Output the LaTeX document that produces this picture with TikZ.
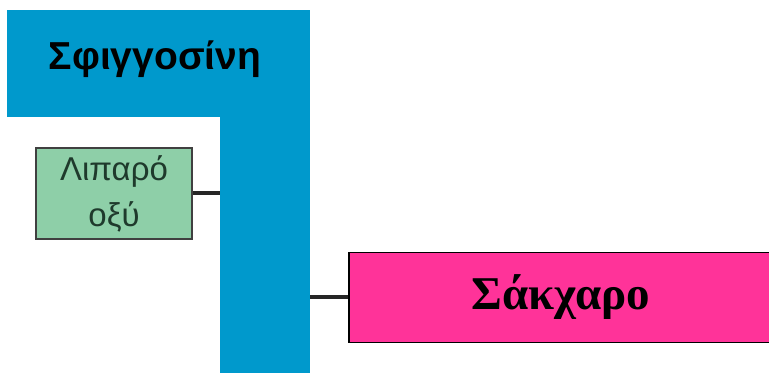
\documentclass[tikz,border=0pt]{standalone}
\usepackage{fontspec}
\setmainfont{Liberation Sans}
\newfontfamily\serifgr{Liberation Serif}
\definecolor{sphblue}{HTML}{0099CC}
\definecolor{fagreen}{HTML}{8ECFA8}
\definecolor{sugpink}{HTML}{FF3399}
\definecolor{fatext}{HTML}{1F3A2C}
\begin{document}
\begin{tikzpicture}[x=1pt,y=1pt,
  bluepart/.style={fill=sphblue,draw=none,inner sep=0pt,anchor=north west},
  fabox/.style={fill=fagreen,draw=black!75,line width=2.5pt,inner sep=0pt,
    minimum width=156pt,minimum height=91pt,text=fatext,align=center,
    font=\fontsize{33}{46}\selectfont},
  sugbox/.style={fill=sugpink,draw=black,line width=1.6pt,inner sep=0pt,
    minimum width=424pt,minimum height=90pt,
    font=\serifgr\bfseries\fontsize{47}{52}\selectfont},
  link/.style={draw=black!85,line width=4pt}]
\useasboundingbox (0,0) rectangle (769,375);
% sphingosine backbone: top bar and vertical stem
\node[bluepart,minimum width=303pt,minimum height=107pt] (cap) at (7,365) {};
\node[bluepart,minimum width=90pt,minimum height=363pt] (stem) at (220,365) {};
\node[font=\bfseries\fontsize{39}{44}\selectfont] (sphlabel) at (155,316) {Σφιγγοσίνη};
% fatty acid
\node[fabox] (fa) at (114,181.5) {Λιπαρό\\οξύ};
% sugar
\node[sugbox,anchor=west] (sug) at (348,77.5) {Σάκχαρο};
% bonds
\draw[link] (fa.east) -- (fa.east -| stem.west);
\draw[link] (stem.east |- sug.west) -- (sug.west);
\end{tikzpicture}
\end{document}
